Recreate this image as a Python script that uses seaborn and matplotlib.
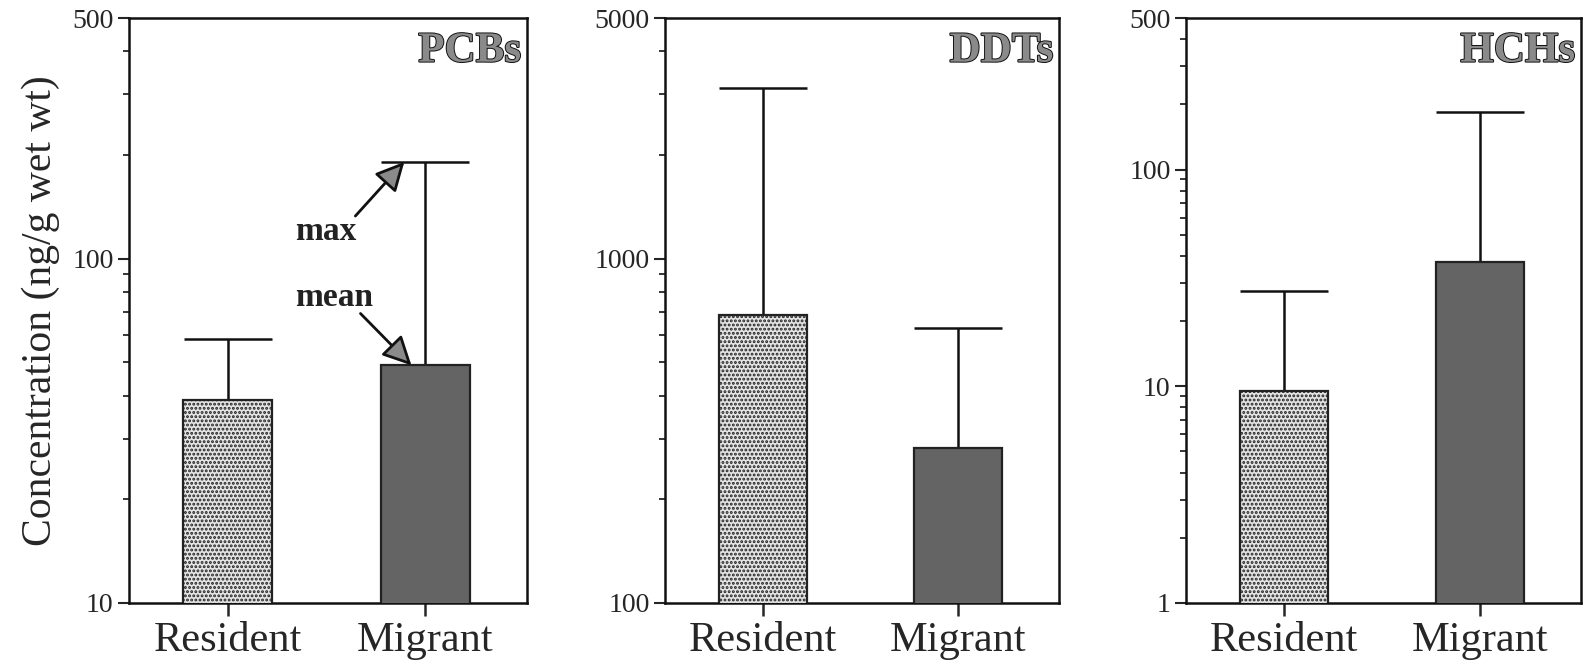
import matplotlib
matplotlib.use("Agg")
import matplotlib.pyplot as plt
import matplotlib.patheffects as pe
from matplotlib.ticker import FixedLocator, NullFormatter
import seaborn as sns
import pandas as pd

# ---- data ----
groups = ["Resident", "Migrant"]
panels = ["PCBs", "DDTs", "HCHs"]
pcb_mean = [38.8, 49.0]
pcb_max = [58.6, 191.0]
ddt_mean = [684.0, 282.0]
ddt_max = [3130.0, 631.0]
hch_mean = [9.55, 37.3]
hch_max = [27.5, 185.0]
ylims = [(10, 500), (100, 5000), (1, 500)]
major_ticks = [[10, 100, 500], [100, 1000, 5000], [1, 10, 100, 500]]
ylabel = "Concentration (ng/g wet wt)"

means = [pcb_mean, ddt_mean, hch_mean]
maxes = [pcb_max, ddt_max, hch_max]

sns.set_style("ticks")
plt.rcParams["font.family"] = ["Liberation Serif", "DejaVu Serif"]
plt.rcParams["hatch.linewidth"] = 1.4

W, H = 1588, 667
fig = plt.figure(figsize=(W / 100, H / 100), dpi=100)

ax_px = [(129, 527), (665, 1059), (1186, 1581)]
top_px, bot_px = 18, 603

palette = {"Resident": "#e4e4e4", "Migrant": "#646464"}

for i, name in enumerate(panels):
    l, r = ax_px[i]
    ax = fig.add_axes([l / W, (H - bot_px) / H, (r - l) / W, (bot_px - top_px) / H])
    df = pd.DataFrame({"group": groups, "value": means[i]})
    sns.barplot(data=df, x="group", y="value", hue="group", palette=palette,
                dodge=False, width=0.45, legend=False, ax=ax,
                edgecolor="#222222", linewidth=1.6, zorder=3)
    ax.set_yscale("log")
    ax.set_ylim(*ylims[i])
    ax.set_xlim(-0.5, 1.515)
    for j, p in enumerate(ax.patches):
        if j == 0:
            p.set_hatch("....")
    # upper-only error bars (max)
    for j, g in enumerate(groups):
        ax.errorbar(j, means[i][j], yerr=[[0], [maxes[i][j] - means[i][j]]],
                    fmt="none", ecolor="#111111", elinewidth=1.8,
                    capsize=31.5, capthick=1.8, zorder=2)
    ax.yaxis.set_major_locator(FixedLocator(major_ticks[i]))
    ax.set_yticklabels([str(t) for t in major_ticks[i]])
    lo, hi = ylims[i]
    minors = []
    dec = lo
    while dec < hi:
        for k in range(2, 10):
            v = dec * k
            if v < hi and v not in major_ticks[i]:
                minors.append(v)
        dec *= 10
    ax.yaxis.set_minor_locator(FixedLocator(minors))
    ax.yaxis.set_minor_formatter(NullFormatter())
    ax.tick_params(axis="y", which="major", direction="out", length=8, width=1.5,
                   labelsize=20, pad=3)
    ax.tick_params(axis="y", which="minor", direction="out", length=4, width=1.3)
    ax.tick_params(axis="x", direction="out", length=9, width=1.8,
                   labelsize=30.5, pad=4)
    for s in ax.spines.values():
        s.set_visible(True)
        s.set_linewidth(1.8)
        s.set_color("#111111")
    ax.set_xlabel("")
    ax.set_ylabel(ylabel if i == 0 else "", fontsize=30, labelpad=9)
    t = ax.text(0.985, 0.975, name, transform=ax.transAxes, ha="right", va="top",
                fontsize=31, fontweight="bold", color="#8a8a8a")
    t.set_path_effects([pe.Stroke(linewidth=1.4, foreground="#111111"), pe.Normal()])

    if i == 0:
        arrow = dict(arrowstyle="-|>,head_length=0.8,head_width=0.4",
                     mutation_scale=22, fc="#8a8a8a", ec="#111111", lw=2.0,
                     shrinkA=0, shrinkB=0)
        ax.text(0.34, 120, "max", ha="left", va="center", fontsize=24,
                fontweight="bold", color="#222222")
        ax.text(0.34, 77, "mean", ha="left", va="center", fontsize=24,
                fontweight="bold", color="#222222")
        ax.annotate("", xy=(0.894, pcb_max[1]), xytext=(0.646, 133),
                    arrowprops=arrow)
        ax.annotate("", xy=(0.93, pcb_mean[1]), xytext=(0.672, 69.3),
                    arrowprops=arrow)

fig.savefig("out.png", dpi=100)
